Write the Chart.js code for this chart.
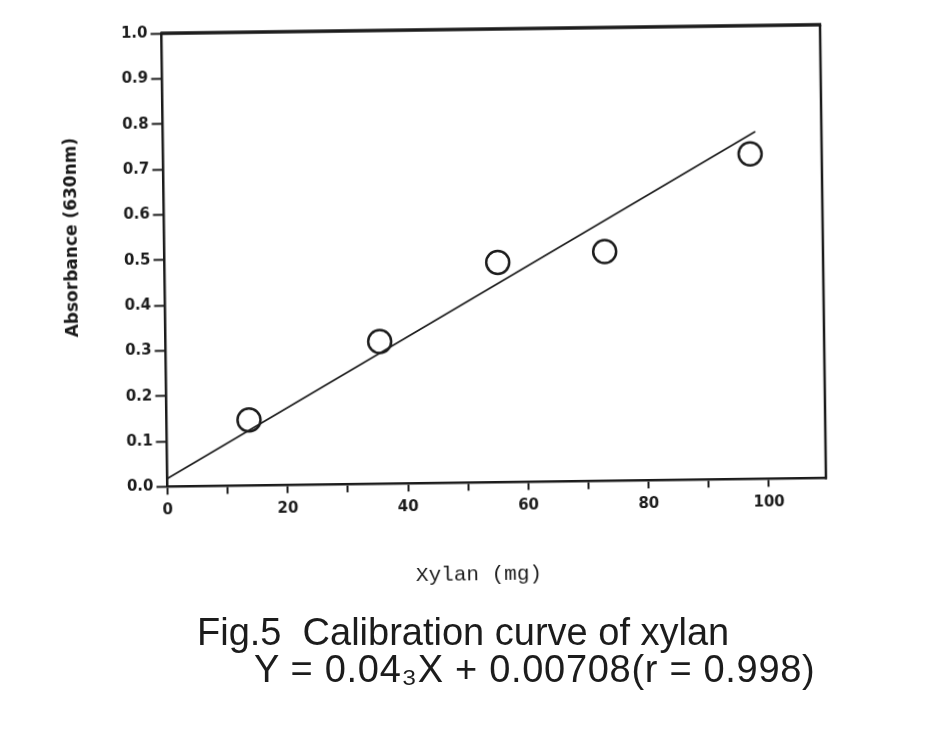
<!DOCTYPE html>
<html>
<head>
<meta charset="utf-8">
<title>Fig.5 Calibration curve of xylan</title>
<script src="https://cdn.jsdelivr.net/npm/chart.js@4"></script>
<style>
  html, body { margin: 0; padding: 0; background: #fff; }
  /* the scanned figure is slightly tilted, so the plot is turned a bit */
  #wrap { position: absolute; left: 0; top: 0; width: 926px; height: 735px;
          transform: rotate(-0.75deg); transform-origin: 493.75px 255.7px; }
  .caption { position: absolute; font-family: "Liberation Sans", Arial, sans-serif;
             font-size: 38px; line-height: 38px; color: #1c1c1c; white-space: pre; }
  #cap1 { left: 197px; top: 613px; }
  #cap2 { left: 254px; top: 650px; letter-spacing: 0.7px; }
</style>
</head>
<body>
<div id="wrap"><canvas id="chart" width="926" height="735"></canvas></div>
<div class="caption" id="cap1">Fig.5  Calibration curve of xylan</div>
<div class="caption" id="cap2">Y = 0.04₃X + 0.00708(r = 0.998)</div>
<script>
// measured points
const xylanMg = [13.7, 35.6, 55.4, 73.2, 97.6];
const absorbance = [0.145, 0.314, 0.485, 0.506, 0.717];

// regression line end points
const fitX = [0, 98.5];
const fitY = [0.018, 0.766];

const xTickValues = [0, 10, 20, 30, 40, 50, 60, 70, 80, 90, 100];
const yTickValues = [0, 0.1, 0.2, 0.3, 0.4, 0.5, 0.6, 0.7, 0.8, 0.9, 1.0];

const chart = document.querySelector('#chart');
const ink = '#1c1c1c';

// top and right edges of the box
const framePlugin = {
    id: 'frame',
    afterDraw(c) {
        const ctx = c.ctx;
        const a = c.chartArea;
        ctx.save();
        ctx.strokeStyle = ink;
        ctx.lineWidth = 3.5;
        ctx.beginPath();
        ctx.moveTo(a.left - 1, a.top);
        ctx.lineTo(a.right + 1.2, a.top);
        ctx.stroke();
        ctx.lineWidth = 2.5;
        ctx.beginPath();
        ctx.moveTo(a.right, a.top);
        ctx.lineTo(a.right, a.bottom + 1.2);
        ctx.stroke();
        ctx.restore();
    }
};

const myChart = new Chart(chart, {
    type: 'scatter',
    data: {
        datasets: [{
            label: 'Xylan',
            data: xylanMg.map((x, i) => ({ x: x, y: absorbance[i] })),
            pointStyle: 'circle',
            pointRadius: 11.5,
            pointBorderWidth: 2.5,
            pointBorderColor: ink,
            pointBackgroundColor: 'rgba(0,0,0,0)',
            showLine: false
        }, {
            label: 'Fit',
            type: 'line',
            data: fitX.map((x, i) => ({ x: x, y: fitY[i] })),
            borderColor: ink,
            borderWidth: 1.7,
            pointRadius: 0,
            fill: false
        }]
    },
    options: {
        responsive: false,
        animation: false,
        layout: {
            padding: { left: 0, right: 103, top: 29, bottom: 147.6 }
        },
        plugins: {
            legend: { display: false },
            tooltip: { enabled: false }
        },
        scales: {
            x: {
                type: 'linear',
                min: 0,
                max: 109.5,
                afterBuildTicks: (s) => { s.ticks = xTickValues.map(v => ({ value: v })); },
                afterFit: (s) => { s.height = 105; },
                border: { color: ink, width: 2.5 },
                grid: { drawOnChartArea: false, tickLength: 8, tickWidth: 2, tickColor: ink },
                ticks: {
                    color: ink,
                    padding: 7,
                    autoSkip: false,
                    maxRotation: 0,
                    font: { family: 'DejaVu Sans', size: 15, weight: 'bold' },
                    callback: (v) => (v % 20 === 0 ? String(v) : '')
                },
                title: {
                    display: true,
                    text: 'Xylan (mg)   ',
                    color: ink,
                    font: { family: 'Liberation Mono', size: 21 },
                    padding: { top: 0, bottom: 0 }
                }
            },
            y: {
                min: 0,
                max: 1,
                afterBuildTicks: (s) => { s.ticks = yTickValues.map(v => ({ value: v })); },
                afterFit: (s) => { s.width = 164.5; },
                border: { color: ink, width: 2.5 },
                grid: { drawOnChartArea: false, tickLength: 11, tickWidth: 2, tickColor: ink },
                ticks: {
                    color: ink,
                    padding: 3,
                    font: { family: 'DejaVu Sans', size: 15, weight: 'bold' },
                    callback: (v) => v.toFixed(1)
                },
                title: {
                    display: true,
                    text: '        Absorbance (630nm)',
                    color: ink,
                    font: { family: 'DejaVu Sans', size: 17, weight: 'bold' },
                    padding: { top: 62, bottom: 0 }
                }
            }
        }
    },
    plugins: [framePlugin]
});
</script>
</body>
</html>
